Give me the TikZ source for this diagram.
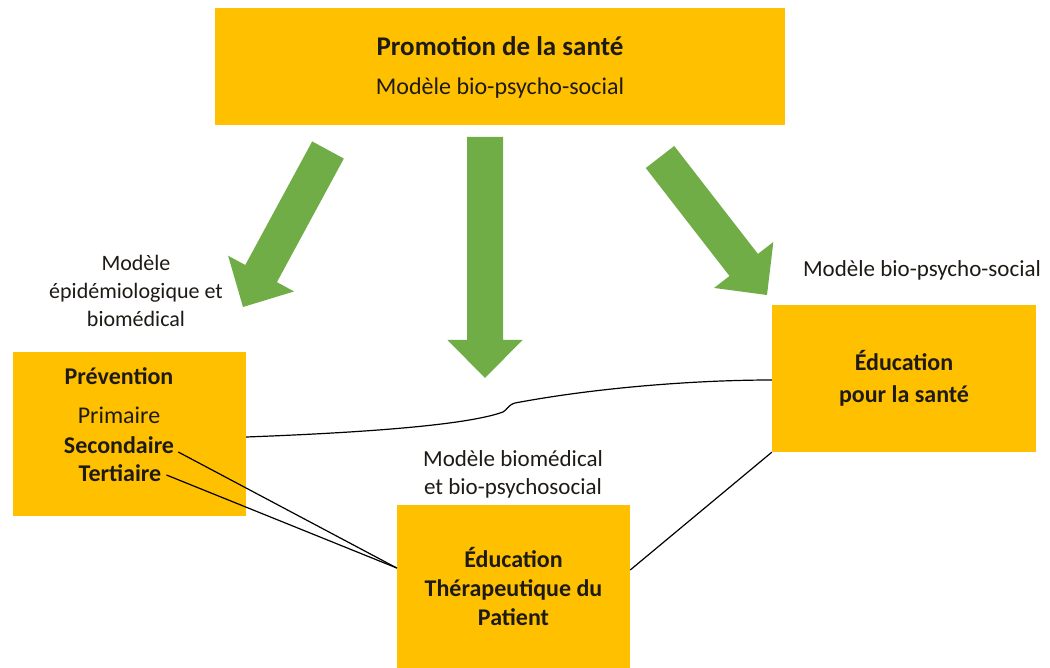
\documentclass[tikz,border=0pt]{standalone}
\usepackage{fontspec}
\setmainfont{Carlito}
\usetikzlibrary{calc}
\definecolor{boxgold}{HTML}{FFC000}
\definecolor{arrowgreen}{HTML}{70AD47}
\definecolor{txt}{HTML}{1E1A16}
\newcommand{\greenarrow}[3]{%
  \coordinate (#3) at ($(#2)!38pt!(#1)$);
  \fill[arrowfill] ($(#1)!18pt!90:(#2)$) -- ($(#3)!18pt!-90:(#1)$) -- ($(#3)!37.5pt!-90:(#1)$) -- (#2)
    -- ($(#3)!37.5pt!90:(#1)$) -- ($(#3)!18pt!90:(#1)$) -- ($(#1)!18pt!-90:(#2)$) -- cycle;
}
\begin{document}
\begin{tikzpicture}[x=1pt,y=-1pt,
  gbox/.style={rectangle, fill=boxgold, draw=none, inner sep=0pt, text=txt, align=center},
  boxtext/.style={font=\fontsize{24}{29}\selectfont, text=txt, inner sep=1pt, align=center},
  boxbold/.style={font=\fontsize{24}{29}\selectfont\bfseries, text=txt, inner sep=1pt, align=center},
  lbl/.style={font=\fontsize{23}{28}\selectfont, text=txt, inner sep=0pt, align=center},
  arrowfill/.style={fill=arrowgreen, draw=none},
  link/.style={draw=black, line width=1.2pt}]
\useasboundingbox (0,0) rectangle (1050,668);
\fill[white] (0,0) rectangle (1050,668);

% boxes
\node[gbox, minimum width=570pt, minimum height=117pt, font=\fontsize{24}{39}\selectfont] (promo) at (500,67)
  {{\fontsize{27}{39}\selectfont\bfseries Promotion de la santé}\\Modèle bio-psycho-social};
\node[gbox, minimum width=233pt, minimum height=164pt] (prev) at (129.5,434) {};
\node[gbox, minimum width=264pt, minimum height=147pt, font=\fontsize{24}{32}\selectfont\bfseries] (eps) at (904,378.5)
  {Éducation\\pour la santé};
\node[gbox, minimum width=233pt, minimum height=163pt, font=\fontsize{24}{29}\selectfont\bfseries] (etp) at (513.5,586.5)
  {Éducation\\Thérapeutique du\\Patient};

% text in the Prévention box
\node[boxbold] (prevT) at (119,376) {Prévention};
\node[boxtext] (prim) at (119,415) {Primaire};
\node[boxbold] (sec) at (119,445) {Secondaire};
\node[boxbold] (tert) at (120,473) {Tertiaire};

% labels
\node[lbl, font=\fontsize{22}{28}\selectfont] (lblL) at (136,291) {Modèle\\épidémiologique et\\biomédical};
\node[lbl] (lblR) at (922,270) {Modèle bio-psycho-social};
\node[lbl] (lblM) at (513,474) {Modèle biomédical\\et bio-psychosocial};

% green arrows
\coordinate (tailL) at (328,150);
\coordinate (tipL) at (243,307);
\coordinate (tailC) at (485,137);
\coordinate (tipC) at (485,378);
\coordinate (tailR) at (660,157);
\coordinate (tipR) at (767,295);
\greenarrow{tailL}{tipL}{baseL}
\greenarrow{tailC}{tipC}{baseC}
\greenarrow{tailR}{tipR}{baseR}

% connectors
\draw[link] ([yshift=-3pt]prev.east) .. controls (380,432) and (470,424) .. (503,412)
  .. controls (507,410) and (508,405) .. (515,403)
  .. controls (600,387) and (700,380) .. ([yshift=-1.5pt]eps.west);
\draw[link] ([xshift=3pt,yshift=-7pt]sec.east) -- ([yshift=18.5pt]etp.west);
\draw[link] ([xshift=4pt,yshift=-2pt]tert.east) -- ([yshift=18.5pt]etp.west);
\draw[link] ([yshift=16.5pt]etp.east) -- (eps.south west);
\end{tikzpicture}
\end{document}
